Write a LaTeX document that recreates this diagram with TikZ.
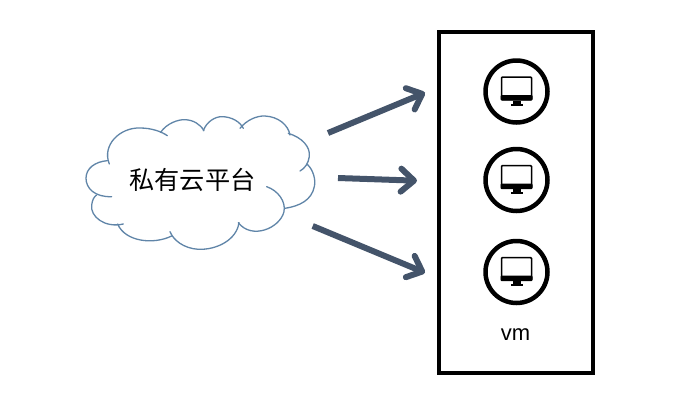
\documentclass[tikz,border=0pt]{standalone}
\usepackage{fontspec}
\setmainfont{Liberation Sans}
\newfontfamily\cjk{Noto Sans CJK SC}
\usetikzlibrary{arrows.meta}
\definecolor{arrowc}{HTML}{44546A}
\definecolor{cloudc}{HTML}{6085A8}
\tikzset{
  cloudline/.style={draw=cloudc,line width=1.3pt,line cap=round},
  flow/.style={draw=arrowc,line width=6pt,-{Straight Barb[length=13pt,width=23pt,line width=6pt,round]}},
  vmring/.style={circle,draw=black,line width=4.5pt,minimum size=62pt,inner sep=0pt,fill=white},
  monitor/.pic={
    \draw[black,line width=1.5pt,rounded corners=1pt,fill=white] (-15,-14.5) rectangle (15,8);
    \fill[black,rounded corners=1pt] (-16,3.5) rectangle (16,9);
    \fill[black] (-4,9) rectangle (4,12.5);
    \fill[black] (-6,12) rectangle (6,14);
  }
}
\begin{document}
\begin{tikzpicture}[x=1pt,y=-1pt]
\useasboundingbox (0,0) rectangle (691,416);
\fill[white] (0,0) rectangle (691,416);
% cloud
\begin{scope}[shift={(70,100)},x=0.3333pt,y=-0.3333pt]
\draw[cloudline] (125,290) .. controls (75,292) and (48,265) .. (48,235) .. controls (48,205) and (75,185) .. (112,182);
\draw[cloudline] (118,192) .. controls (95,135) and (150,82) .. (210,84) .. controls (245,84) and (275,95) .. (292,107);
\draw[cloudline] (272,97) .. controls (290,70) and (325,58) .. (345,59) .. controls (370,60) and (390,72) .. (402,92);
\draw[cloudline] (400,92) .. controls (410,65) and (435,50) .. (455,50) .. controls (485,50) and (510,65) .. (520,85);
\draw[cloudline] (510,85) .. controls (530,60) and (560,47) .. (585,48) .. controls (625,50) and (655,75) .. (660,105);
\draw[cloudline] (655,100) .. controls (695,112) and (722,140) .. (718,170) .. controls (715,190) and (705,205) .. (690,213);
\draw[cloudline] (712,193) .. controls (730,210) and (738,240) .. (733,260) .. controls (725,300) and (690,318) .. (645,325);
\draw[cloudline] (590,260) .. controls (625,272) and (648,305) .. (642,335) .. controls (630,385) and (545,420) .. (505,368);
\draw[cloudline] (507,368) .. controls (500,420) and (440,450) .. (385,448) .. controls (340,445) and (310,420) .. (300,395);
\draw[cloudline] (305,408) .. controls (250,435) and (165,425) .. (143,372);
\draw[cloudline] (160,372) .. controls (105,385) and (60,350) .. (65,315) .. controls (67,300) and (72,290) .. (80,285);
\end{scope}
\node[inner sep=0pt,font=\cjk\fontsize{25.2}{25.2}\selectfont,text=black] (cloudtext) at (192.5,179.5) {私有云平台};
% box
\node[draw=black,line width=4pt,minimum width=154pt,minimum height=341pt,inner sep=0pt] (vmbox) at (515.5,202) {};
% vms
\foreach \n/\yy in {1/91.5,2/180,3/272}{
  \node[vmring] (vm\n) at (516.5,\yy) {};
  \pic at (vm\n) {monitor};
}
\node[inner sep=0pt,font=\fontsize{22}{22}\selectfont,text=black] (vmlabel) at (515.5,335) {vm};
% arrows
\coordinate (a1s) at (328,133); \coordinate (a1e) at (425,92.7);
\coordinate (a2s) at (338,178); \coordinate (a2e) at (417,180.7);
\coordinate (a3s) at (312.7,226); \coordinate (a3e) at (425,272.7);
\draw[flow] (a1s) -- (a1e);
\draw[flow] (a2s) -- (a2e);
\draw[flow] (a3s) -- (a3e);
\end{tikzpicture}
\end{document}
